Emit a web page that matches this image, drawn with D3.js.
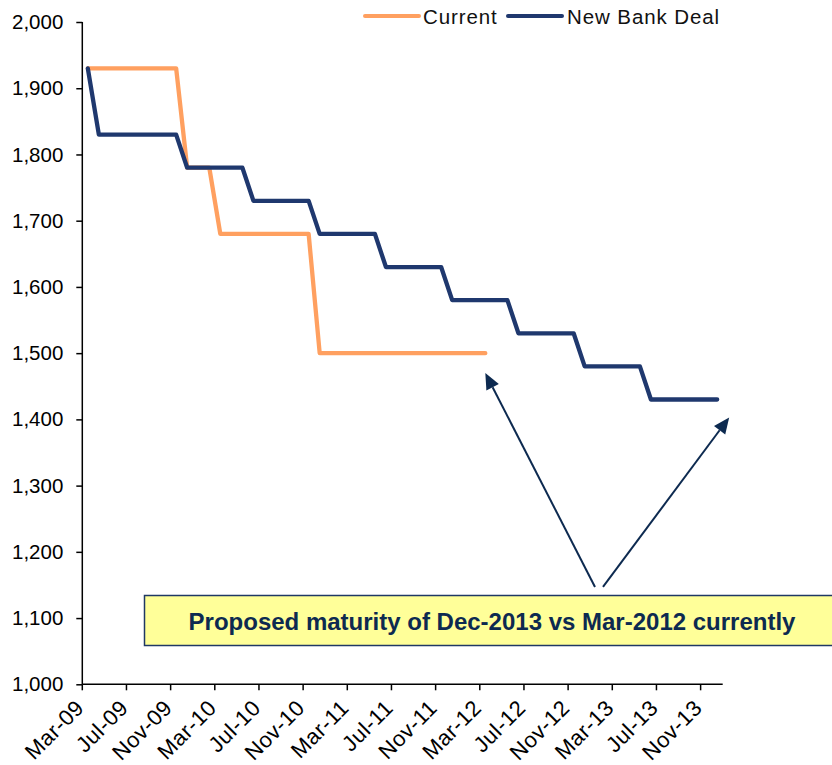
<!DOCTYPE html>
<html>
<head>
<meta charset="utf-8">
<script src="https://cdn.jsdelivr.net/npm/d3@7/dist/d3.min.js"></script>
<style>
  body { margin: 0; background: #fff; }
  svg text { font-family: Arial, "Liberation Sans", sans-serif; }
</style>
</head>
<body>
<div id="chart"></div>
<script>
// months on the category axis (Mar-09 .. Dec-13)
const months = [
  "Mar-09","Apr-09","May-09","Jun-09","Jul-09","Aug-09","Sep-09","Oct-09","Nov-09","Dec-09",
  "Jan-10","Feb-10","Mar-10","Apr-10","May-10","Jun-10","Jul-10","Aug-10","Sep-10","Oct-10",
  "Nov-10","Dec-10","Jan-11","Feb-11","Mar-11","Apr-11","May-11","Jun-11","Jul-11","Aug-11",
  "Sep-11","Oct-11","Nov-11","Dec-11","Jan-12","Feb-12","Mar-12","Apr-12","May-12","Jun-12",
  "Jul-12","Aug-12","Sep-12","Oct-12","Nov-12","Dec-12","Jan-13","Feb-13","Mar-13","Apr-13",
  "May-13","Jun-13","Jul-13","Aug-13","Sep-13","Oct-13","Nov-13","Dec-13"
];

// labelled months (every 4th)
const tickMonths = ["Mar-09","Jul-09","Nov-09","Mar-10","Jul-10","Nov-10","Mar-11","Jul-11",
  "Nov-11","Mar-12","Jul-12","Nov-12","Mar-13","Jul-13","Nov-13"];

const yTicks = [1000, 1100, 1200, 1300, 1400, 1500, 1600, 1700, 1800, 1900, 2000];

// Current facility (ends Mar-12)
const current = [
  1930,1930,1930,1930,1930,1930,1930,1930,1930,1780,
  1780,1780,1680,1680,1680,1680,1680,1680,1680,1680,
  1680,1500,1500,1500,1500,1500,1500,1500,1500,1500,
  1500,1500,1500,1500,1500,1500,1500
];

// New bank deal (ends Dec-13)
const newDeal = [
  1930,1830,1830,1830,1830,1830,1830,1830,1830,1780,
  1780,1780,1780,1780,1780,1730,1730,1730,1730,1730,
  1730,1680,1680,1680,1680,1680,1680,1630,1630,1630,
  1630,1630,1630,1580,1580,1580,1580,1580,1580,1530,
  1530,1530,1530,1530,1530,1480,1480,1480,1480,1480,
  1480,1430,1430,1430,1430,1430,1430,1430
];

const seriesNames = ["Current", "New Bank Deal"];
const colors = ["#FFA060", "#1F386E"];
const noteText = "Proposed maturity of Dec-2013 vs Mar-2012 currently";

const width = 832, height = 765;
const svg = d3.select("#chart").append("svg")
  .attr("width", width).attr("height", height);

const x = d3.scaleBand().domain(months).range([82.3, 722.7]).padding(0);
const xc = m => x(m) + x.bandwidth() / 2;
const y = d3.scaleLinear().domain([1000, 2000]).range([684.3, 22]);

// y axis
const yAxis = svg.append("g")
  .attr("transform", "translate(82.3,0)")
  .call(d3.axisLeft(y).tickValues(yTicks).tickSize(6).tickPadding(13)
    .tickFormat(d3.format(",")));
yAxis.select(".domain").attr("stroke", "#000").attr("stroke-width", 1.5).attr("d", `M0,${y(2000)}V${y(1000)}`);
yAxis.selectAll(".tick line").attr("stroke", "#000").attr("stroke-width", 1.5);
yAxis.selectAll("text").attr("font-size", 20.5).attr("fill", "#000")
  .style("font-family", "Arial, 'Liberation Sans', sans-serif");

// x axis
const xg = svg.append("g");
xg.append("line")
  .attr("x1", x.range()[0]).attr("x2", x.range()[1])
  .attr("y1", y(1000)).attr("y2", y(1000))
  .attr("stroke", "#000").attr("stroke-width", 1.5);
xg.selectAll(".xt").data(tickMonths).join("line")
  .attr("x1", d => x(d)).attr("x2", d => x(d))
  .attr("y1", y(1000)).attr("y2", y(1000) + 6)
  .attr("stroke", "#000").attr("stroke-width", 1.5);
xg.selectAll(".xl").data(tickMonths).join("text")
  .attr("transform", d => `translate(${x(d) + 3},${y(1000) + 25}) rotate(-45)`)
  .attr("text-anchor", "end")
  .attr("font-size", 22)
  .attr("letter-spacing", 0.5)
  .attr("fill", "#000")
  .text(d => d);

// lines
const line = d3.line().x((d, i) => xc(months[i])).y(d => y(d));
[current, newDeal].forEach((s, k) => {
  svg.append("path").datum(s)
    .attr("fill", "none")
    .attr("stroke", colors[k])
    .attr("stroke-width", 4.3)
    .attr("stroke-linejoin", "round")
    .attr("stroke-linecap", "round")
    .attr("d", line);
});

// legend
const legendPos = [[365, 423], [508, 567]];
seriesNames.forEach((name, k) => {
  const [lx, tx] = legendPos[k];
  svg.append("line").attr("x1", lx).attr("x2", lx + 54).attr("y1", 16).attr("y2", 16)
    .attr("stroke", colors[k]).attr("stroke-width", 4).attr("stroke-linecap", "round");
  svg.append("text").attr("x", tx).attr("y", 24).attr("font-size", 20.5)
    .attr("letter-spacing", 0.9).attr("fill", "#111").text(name);
});

// annotation box
svg.append("rect")
  .attr("x", 144.5).attr("y", 595.5).attr("width", 720).attr("height", 50)
  .attr("fill", "#FFFF99").attr("stroke", "#1F3864").attr("stroke-width", 1.5);
svg.append("text")
  .attr("x", 492).attr("y", 630)
  .attr("text-anchor", "middle")
  .attr("font-size", 24).attr("font-weight", "bold")
  .attr("fill", "#0D2A50")
  .text(noteText);

// arrows from the note to the two maturities
const arrowColor = "#0D2A50";
const arrows = [
  { from: [595, y(1147)], to: [xc("Mar-12"), y(1470)] },
  { from: [603, y(1147)], to: [xc("Dec-13") + 12, y(1403)] }
];
arrows.forEach(a => {
  const [x1, y1] = a.from, [x2, y2] = a.to;
  const ang = Math.atan2(y2 - y1, x2 - x1);
  const L = 16, W = 7;
  const bx = x2 - L * Math.cos(ang), by = y2 - L * Math.sin(ang);
  svg.append("line").attr("x1", x1).attr("y1", y1).attr("x2", bx).attr("y2", by)
    .attr("stroke", arrowColor).attr("stroke-width", 2);
  svg.append("path")
    .attr("d", `M${x2},${y2}L${bx + W * Math.sin(ang)},${by - W * Math.cos(ang)}L${bx - W * Math.sin(ang)},${by + W * Math.cos(ang)}Z`)
    .attr("fill", arrowColor);
});
</script>
</body>
</html>
